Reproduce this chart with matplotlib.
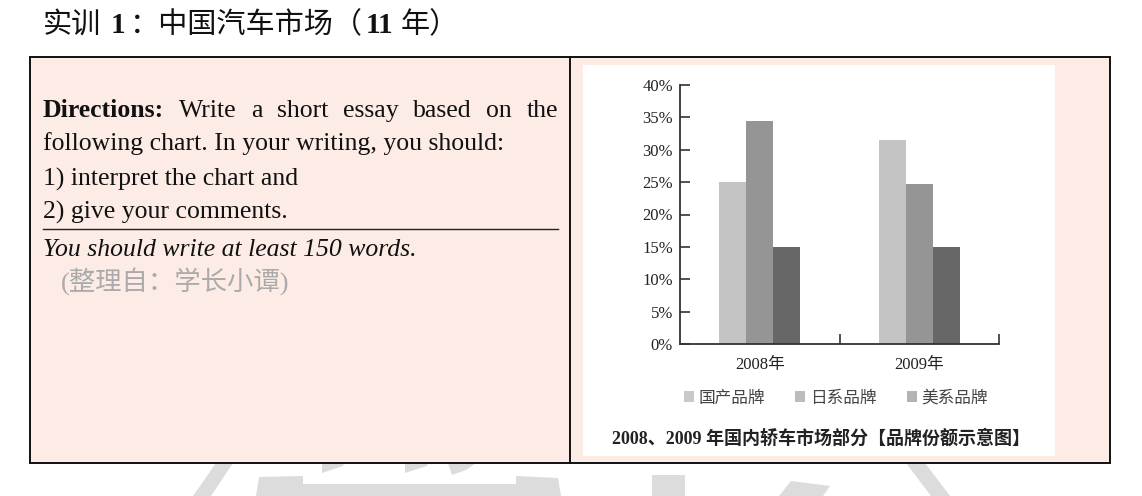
import matplotlib
matplotlib.use("Agg")
import matplotlib.pyplot as plt
from matplotlib.patches import Rectangle, Polygon, Patch
import numpy as np

# chart data
years = ["2008年", "2009年"]
brands = ["国产品牌", "日系品牌", "美系品牌"]
share_2008 = [25, 34.5, 15]
share_2009 = [31.5, 24.7, 15]
y_ticks = [0, 5, 10, 15, 20, 25, 30, 35, 40]
bar_colors = ["#c4c4c4", "#959595", "#676767"]
legend_colors = ["#c9c9c9", "#bcbcbc", "#b3b3b3"]

title_pieces = ["实训", "1", "：中国汽车市场（", "11", "年）"]
line1_words = ["Directions:", "Write", "a", "short", "essay", "based", "on", "the"]
line2 = "following chart. In your writing, you should:"
line3 = "1) interpret the chart and"
line4 = "2) give your comments."
line5 = "You should write at least 150 words."
source_note = "(整理自：学长小谭)"
caption = "2008、2009 年国内轿车市场部分【品牌份额示意图】"

W, H = 1142, 496
SERIF = "Liberation Serif"
CJK = "Noto Sans CJK SC"
MIX = [SERIF, CJK]
PINK = "#fcece5"

fig = plt.figure(figsize=(W / 100, H / 100), dpi=100)
fig.patch.set_facecolor("white")

# background axes in pixel units, y pointing down
bg = fig.add_axes([0, 0, 1, 1])
bg.set_xlim(0, W)
bg.set_ylim(H, 0)
bg.axis("off")
renderer = fig.canvas.get_renderer()


def put_run(x, y, pieces):
    for txt, kw, gap in pieces:
        t = bg.text(x, y, txt, va="baseline", ha="left", **kw)
        x += t.get_window_extent(renderer).width + gap
    return x


# faint watermark peeking out below the table
marks = [
    [(216, 463), (233, 463), (211, 496), (193, 496)],
    [(322, 463), (344, 463), (343, 466), (322, 473)],
    [(405, 463), (428, 463), (427, 466), (405, 473)],
    [(448, 463), (476, 463), (466, 470), (452, 475)],
    [(259, 477), (303, 476), (303, 484), (516, 484), (516, 476), (558, 478), (561, 496), (256, 496)],
    [(652, 475), (685, 475), (685, 496), (652, 496)],
    [(791, 481), (830, 486), (823, 496), (779, 496)],
    [(906, 463), (925, 463), (950, 496), (931, 496)],
]
for pts in marks:
    bg.add_patch(Polygon(pts, closed=True, fc="#dcdcdc", ec="none", zorder=0))

# table cells
bg.add_patch(Rectangle((30, 57), 540, 406, fc=PINK, ec="none", zorder=1))
bg.add_patch(Rectangle((570, 57), 540, 406, fc=PINK, ec="none", zorder=1))
bg.add_patch(Rectangle((583, 65), 472, 391, fc="white", ec="none", zorder=1))
for xs, ys in [([30, 1110], [57, 57]), ([30, 1110], [463, 463]),
               ([30, 30], [57, 463]), ([570, 570], [57, 463]), ([1110, 1110], [57, 463])]:
    bg.plot(xs, ys, color="#111111", lw=1.4, zorder=2, solid_capstyle="projecting")

# title
kw_cjk = dict(fontfamily=CJK, fontsize=21, fontweight="medium", color="#111111")
kw_num = dict(fontfamily=SERIF, fontsize=21, fontweight="bold", color="#111111")
put_run(43, 33, [(title_pieces[0], kw_cjk, 9), (title_pieces[1], kw_num, 5),
                 (title_pieces[2], kw_cjk, 3), (title_pieces[3], kw_num, 7),
                 (title_pieces[4], kw_cjk, 0)])

# left cell text
fs = 18.5
body = dict(fontfamily=SERIF, fontsize=fs, color="#111111")

# first line is justified between x=43 and x=558
texts = []
for i, w in enumerate(line1_words):
    kw = dict(body)
    if i == 0:
        kw["fontweight"] = "bold"
    texts.append(bg.text(43, 117, w, va="baseline", ha="left", **kw))
widths = [t.get_window_extent(renderer).width for t in texts]
gap = (558 - 43 - sum(widths)) / (len(texts) - 1)
x = 43
for t, w in zip(texts, widths):
    t.set_x(x)
    x += w + gap

bg.text(43, 150, line2, va="baseline", **body)
bg.text(43, 186, line3, va="baseline", **body)
bg.text(43, 219, line4, va="baseline", **body)
bg.plot([43, 558], [229, 229], color="#222222", lw=1.0, zorder=3)
bg.text(43, 256, line5, va="baseline", fontstyle="italic", **body)
bg.text(61, 290, source_note, va="baseline", fontfamily=MIX, fontsize=19, color="#aaaaaa")

# chart
ax = fig.add_axes([680 / W, 1 - 344 / H, 319 / W, 259 / H])
ax.set_facecolor("none")
x = np.arange(len(years))
width = 0.17
shares = np.array([share_2008, share_2009]).T
for k in range(len(brands)):
    ax.bar(x + (k - 1) * width, shares[k], width, color=bar_colors[k], zorder=2)

ax.set_xlim(-0.5, 1.5)
ax.set_ylim(0, 40)
for s in ["top", "right"]:
    ax.spines[s].set_visible(False)
for s in ["left", "bottom"]:
    ax.spines[s].set_color("#333333")
    ax.spines[s].set_linewidth(1.3)

ax.set_yticks(y_ticks)
ax.set_yticklabels([f"{v}%" for v in y_ticks], fontfamily=SERIF, fontsize=12, color="#222222")
ax.tick_params(axis="y", direction="in", length=7, width=1.2, pad=5, color="#333333")
ax.set_xticks([0.5, 1.5])
ax.set_xticklabels([])
ax.set_xticks(x, minor=True)
ax.set_xticklabels(years, minor=True, fontfamily=MIX, fontsize=12, color="#222222")
ax.tick_params(axis="x", which="major", direction="in", length=7, width=1.2, color="#333333")
ax.tick_params(axis="x", which="minor", length=0, pad=9)

handles = [Patch(facecolor=c, edgecolor="none") for c in legend_colors]
leg = ax.legend(handles, brands, ncol=3, loc="center",
                bbox_to_anchor=((836 - 680) / 319, (344 - 398) / 259),
                frameon=False, handlelength=0.6, handleheight=0.6,
                handletextpad=0.3, columnspacing=1.8,
                prop=dict(family=CJK, size=12))
for t in leg.get_texts():
    t.set_color("#444444")

bg.text(821, 439, caption, ha="center", va="center", fontfamily=MIX,
        fontweight="bold", fontsize=13, color="#222222", zorder=3)

plt.savefig("out.png", dpi=100)
